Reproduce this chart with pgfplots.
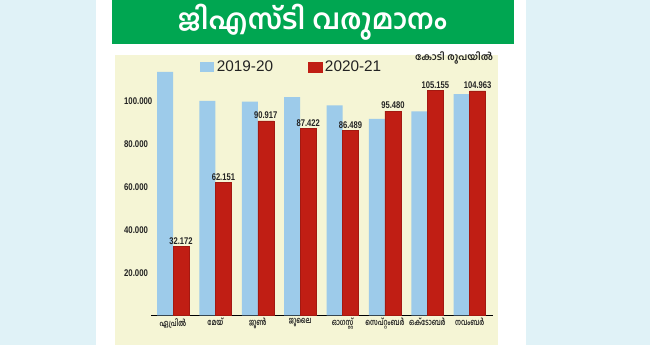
\documentclass[border=0pt]{standalone}
\usepackage{graphicx}
\usepackage{pgfplots}
\pgfplotsset{compat=1.18}
\usepackage{pgfplotstable}
\usepackage{fontspec}
\setmainfont{Liberation Sans}
\newfontfamily\mlfont[Script=Malayalam]{Hind Kochi}
\definecolor{bgblue}{HTML}{E0F2F7}
\definecolor{cream}{HTML}{F5F5D5}
\definecolor{titlegreen}{HTML}{00A651}
\definecolor{barblue}{HTML}{9DCBEA}
\definecolor{barred}{HTML}{C01E14}
\definecolor{txt}{HTML}{232323}

\pgfplotstableread{
x old new lab
0 113.865 32.172 32.172
1 100.289 62.151 62.151
2 99.939 90.917 90.917
3 102.083 87.422 87.422
4 98.202 86.489 86.489
5 91.916 95.480 95.480
6 95.380 105.155 105.155
7 103.492 104.963 104.963
}\gst

\begin{document}
\begin{tikzpicture}
\begin{scope}[x=0.75pt,y=0.75pt]
\useasboundingbox (0,0) rectangle (650,345);
\fill[bgblue] (0,0) rectangle (650,345);
\fill[white] (96,0) rectangle (526,345);
\fill[titlegreen] (112,301) rectangle (514,345);
\fill[cream] (115,0) rectangle (498,290);
\node[text=white, inner sep=0pt] at (312.5,323) {\resizebox{201.75pt}{!}{\mlfont\bfseries ജിഎസ്ടി വരുമാനം}};
\node[text=txt, inner sep=0pt] at (454,287) {\resizebox{58.5pt}{!}{\mlfont\bfseries കോടി രൂപയിൽ}};
\end{scope}
\begin{axis}[
  at={(113.25pt,22.125pt)}, anchor=south west, scale only axis,
  width=256.5pt, height=192.6pt,
  xmin=-0.52, xmax=7.55, ymin=0, ymax=120,
  ybar=0pt, bar width=12pt,
  axis lines=left,
  axis line style={-},
  x axis line style={line width=1.1pt, black},
  y axis line style={draw=none},
  major tick length=0pt,
  tick style={draw=none},
  xtick={0,1,2,3,4,5,6,7},
  xticklabels={ഏപ്രിൽ,മേയ്,ജൂൺ,ജൂലൈ,ഓഗസ്റ്റ്,സെപ്റ്റംബർ,ഒക്ടോബർ,നവംബർ},
  xticklabel style={font=\mlfont\bfseries\fontsize{6.5}{7}\selectfont, text=txt, xscale=0.72, inner sep=2pt},
  ytick={20,40,60,80,100},
  yticklabels={20.000,40.000,60.000,80.000,100.000},
  yticklabel style={anchor=west, xshift=-23pt, font=\bfseries\fontsize{7.3}{8}\selectfont, text=txt, xscale=0.8},
  legend style={at={(0.143,0.968)}, anchor=west, draw=none, fill=none,
    font=\fontsize{11.5}{13}\selectfont, text=txt, inner sep=0pt,
    /tikz/every even column/.append style={column sep=24pt}},
  legend columns=2,
]
\addplot[fill=barblue, draw=none,
  legend image code/.code={\fill[barblue] (0pt,-3.75pt) rectangle (10.5pt,3.75pt);}]
  table[x=x,y=old]{\gst};
\addplot[fill=barred, draw=barred!85!black, line width=0.4pt,
  nodes near coords, point meta=explicit symbolic,
  nodes near coords style={font=\bfseries\fontsize{7.3}{8}\selectfont, text=txt, xscale=0.78, anchor=south, inner sep=1.5pt},
  legend image code/.code={\fill[barred] (0pt,-3.75pt) rectangle (10.5pt,3.75pt);}]
  table[x=x,y=new,meta=lab]{\gst};
\legend{2019-20,2020-21}
\end{axis}
\end{tikzpicture}
\end{document}
